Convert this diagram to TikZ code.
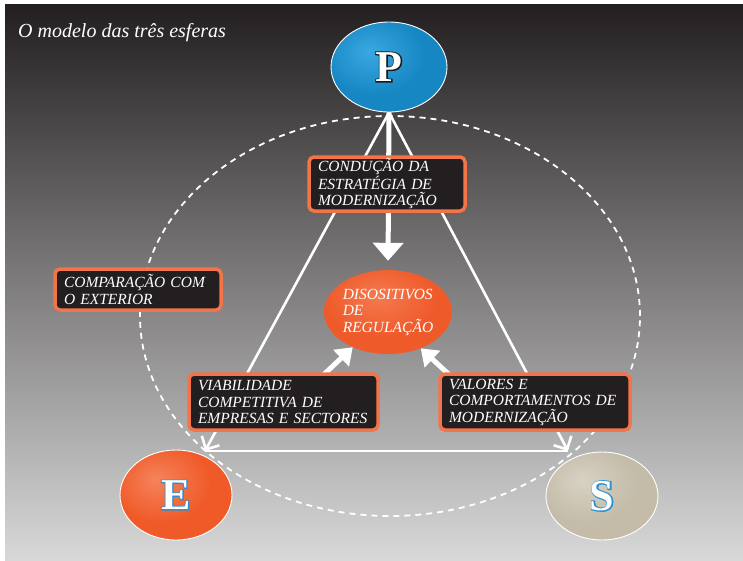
\documentclass[tikz,border=0pt]{standalone}
\usepackage{fontspec}
\setmainfont{Liberation Serif}
\newfontfamily\strokefont{Liberation Serif}[FakeBold=5]
\usetikzlibrary{shapes.geometric,arrows.meta,calc}
\definecolor{bgtop}{HTML}{231F20}
\definecolor{bgmid}{HTML}{6E6D6D}
\definecolor{bgbot}{HTML}{D8D8D8}
\definecolor{boxfill}{HTML}{231F20}
\definecolor{boxline}{HTML}{F37448}
\definecolor{pL}{HTML}{3AA8E0}\definecolor{pM}{HTML}{1787C3}\definecolor{pD}{HTML}{0B5E92}
\definecolor{eL}{HTML}{F5835C}\definecolor{eM}{HTML}{F05A28}\definecolor{eD}{HTML}{B8461F}
\definecolor{sL}{HTML}{D8D2C4}\definecolor{sM}{HTML}{C4BCA9}\definecolor{sD}{HTML}{8E8775}
\definecolor{rL}{HTML}{F47A50}\definecolor{rM}{HTML}{EF5A2A}\definecolor{rD}{HTML}{B03E18}
\definecolor{letblue}{HTML}{2E90D0}
\definecolor{letdark}{HTML}{1A1A1A}
\pgfdeclareradialshading{sphP}{\pgfpoint{-9bp}{9bp}}{color(0bp)=(pL); color(22bp)=(pM); color(42bp)=(pM); color(56bp)=(pD); color(80bp)=(pD)}
\pgfdeclareradialshading{sphE}{\pgfpoint{-9bp}{9bp}}{color(0bp)=(eL); color(22bp)=(eM); color(42bp)=(eM); color(56bp)=(eD); color(80bp)=(eD)}
\pgfdeclareradialshading{sphS}{\pgfpoint{-9bp}{9bp}}{color(0bp)=(sL); color(22bp)=(sM); color(42bp)=(sM); color(56bp)=(sD); color(80bp)=(sD)}
\pgfdeclareradialshading{sphR}{\pgfpoint{-4bp}{10bp}}{color(0bp)=(rL); color(22bp)=(rM); color(40bp)=(rM); color(56bp)=(rD); color(80bp)=(rD)}
\newcommand\outletter[2]{\leavevmode
 \rlap{\color{#1}\strokefont\bfseries #2}{\color{white}#2}}
\newcommand\bxfont{\fontsize{15.5}{16.5}\selectfont\itshape\hyphenpenalty=10000\exhyphenpenalty=10000}
\pgfdeclarelayer{bg}
\pgfdeclarelayer{lines}
\pgfsetlayers{bg,lines,main}
\begin{document}
\begin{tikzpicture}[x=1pt,y=-1pt,
  sphere/.style={ellipse, draw=white, line width=0.9pt, inner sep=0pt, shade},
  letterfont/.style={font=\fontsize{44}{44}\selectfont\bfseries},
  box/.style={draw=boxline, line width=3.5pt, rounded corners=5pt, fill=boxfill,
     text=white, font=\bxfont, align=left, inner xsep=9pt, inner ysep=0pt},
  tri/.style={white, line width=2.6pt},
  bigarrow/.style={white, line width=5pt, -{Triangle[width=22pt,length=16pt]}},
  ringstyle/.style={ellipse, draw=white, line width=1.8pt, dash pattern=on 6pt off 5pt, inner sep=0pt}]
\useasboundingbox (0,0) rectangle (743,560);
\begin{pgfonlayer}{bg}
\fill[white] (0,0) rectangle (743,560);
\shade[top color=bgtop, middle color=bgmid, bottom color=bgbot] (5,4) rectangle (743,560);
\end{pgfonlayer}
\node[anchor=base west, text=white, font=\fontsize{20}{22}\selectfont\itshape, inner sep=0pt] (title) at (18,37) {O modelo das três esferas};
% spheres
\node[sphere, shading=sphP, minimum width=116, minimum height=90, letterfont] (P) at (389,67) {\outletter{letdark}{P}};
\node[sphere, shading=sphE, minimum width=112, minimum height=90, letterfont] (E) at (176,495) {\outletter{letblue}{E}};
\node[sphere, shading=sphS, minimum width=112, minimum height=88, letterfont] (S) at (602,496) {\outletter{letblue}{S}};
% dashed ring
\node[ringstyle, minimum width=500, minimum height=400] (ring) at (390,316) {};
% central ellipse
\node[ellipse, shade, shading=sphR, minimum width=126, minimum height=84, inner sep=0pt, text=white, font=\bxfont, align=left] (reg) at (388,312) {DISOSITIVOS\\DE\\REGULAÇÃO};
% boxes
\node[box, minimum width=156, minimum height=54, text width=138] (cond) at (387,184) {CONDUÇÃO~DA\\ESTRATÉGIA~DE\\MODERNIZAÇÃO};
\node[box, minimum width=166, minimum height=41, text width=148] (comp) at (138,289.5) {COMPARAÇÃO~COM\\O~EXTERIOR};
\node[box, minimum width=189, minimum height=56, text width=171] (viab) at (283.5,402) {VIABILIDADE\\COMPETITIVA~DE\\EMPRESAS~E~SECTORES};
\node[box, minimum width=190, minimum height=56, text width=172] (valo) at (535,402) {VALORES~E\\COMPORTAMENTOS~DE\\MODERNIZAÇÃO};
% connectors
\coordinate (Et) at (205,451);
\coordinate (St) at (568,451);
\coordinate (vA) at (318,380);
\coordinate (vB) at (456,381);
\begin{pgfonlayer}{lines}
\draw[tri, -{Straight Barb[length=10pt,width=20pt]}] (P.south) -- (Et);
\draw[tri, -{Straight Barb[length=10pt,width=20pt]}] (P.south) -- (St);
\draw[tri] (Et) -- (St);
\draw[bigarrow, -{Triangle[width=30pt,length=18pt]}, shorten >=9pt] (P.south) -- (reg.north);
\draw[bigarrow] (vA) -- (reg.225);
\draw[bigarrow] (vB) -- (reg.312);
\end{pgfonlayer}
\end{tikzpicture}
\end{document}
